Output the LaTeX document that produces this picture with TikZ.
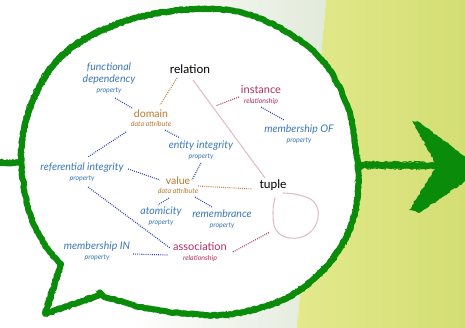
\documentclass[tikz,border=0pt]{standalone}
\usepackage{fontspec}
\setmainfont{Lato}
\usetikzlibrary{decorations.pathmorphing}

\definecolor{brushgreen}{HTML}{0A8C0A}
\definecolor{panelgreen}{HTML}{C9D9BB}
\definecolor{panelyellow}{HTML}{E3E98C}
\definecolor{panelyellowdk}{HTML}{D3DE73}
\definecolor{propblue}{HTML}{3B78B8}
\definecolor{attrbrown}{HTML}{B5782E}
\definecolor{relmagenta}{HTML}{B32E64}
\definecolor{dotblue}{HTML}{2C3FB0}
\definecolor{dotorange}{HTML}{C0803A}
\definecolor{dotmagenta}{HTML}{B0306A}
\definecolor{tuplepink}{HTML}{E3BCCB}

% second line of a label: the kind of element
\newcommand{\kind}[1]{\\[-1.5pt]{\fontsize{7}{7}\selectfont\itshape #1}}

% outline of the speech bubble, tail at the lower left
\newcommand{\bubbleoutline}{plot[smooth, tension=0.6] coordinates {
    (100,295) (140,307) (180,313) (220,315) (260,308) (297,292) (330,262)
    (350,228) (358,190) (356,150) (347,105) (322,60) (285,31) (243,13)
    (195,9) (140,17) (90,36) (55,63) (33,100) (22,140) (23,180) (31,217)
    (47,248) (61,264)} -- (45,314) -- cycle}

\pgfdeclarehorizontalshading{leftpanel}{100bp}{color(0bp)=(white);
  color(45bp)=(white); color(100bp)=(panelgreen)}

\begin{document}
\begin{tikzpicture}[
  x=1pt,
  y=-1pt,
  every node/.style={inner sep=1pt, align=center},
  concept/.style={font=\fontsize{12}{12}\selectfont, text=black},
  attrib/.style={font=\fontsize{10.5}{10.5}\selectfont, text=attrbrown},
  relship/.style={font=\fontsize{11}{11}\selectfont, text=relmagenta},
  prop/.style={font=\fontsize{10.5}{11.5}\selectfont\itshape, text=propblue},
  dotlink/.style={line width=1.1pt, dash pattern=on 0.9pt off 1.2pt},
  bluelink/.style={dotlink, dotblue},
  orangelink/.style={dotlink, dotorange},
  magentalink/.style={dotlink, dotmagenta},
  pinklink/.style={tuplepink, line width=1.1pt},
  brush/.style={draw=brushgreen, line width=6pt, line join=round, line cap=round,
                decorate, decoration={random steps, segment length=2.5pt, amplitude=0.7pt}},
  brushedge/.style={draw=brushgreen, line width=1pt,
                decorate, decoration={random steps, segment length=1.5pt, amplitude=1.1pt}}
]
  \pgfmathsetseed{11}
  \useasboundingbox (0,0) rectangle (465,328);
  \clip (0,0) rectangle (465,328);

  % ---- background panels ----
  \shade[shading=leftpanel] (0,0) -- (326,0) -- (297,328) -- (0,328) -- cycle;
  \shade[left color=panelyellow, right color=panelyellowdk]
    (326,0) -- (465,0) -- (465,328) -- (297,328) -- cycle;

  % ---- arrow shaft through the bubble ----
  \draw[brush] (0,163) -- (28,163);
  \draw[brushedge] (0,160) -- (26,160.5);
  \draw[brush] (352,165) -- (440,165.5);
  \draw[brushedge] (352,162) -- (432,162.5);
  \draw[brushedge] (352,168) -- (436,168.5);

  % ---- arrow head ----
  \fill[brushgreen, decorate, decoration={random steps, segment length=2pt, amplitude=0.8pt}]
    (412,121) -- (419,122) -- (466,157) -- (466,181) -- (419,213) -- (409,210)
    -- (437,166) -- cycle;

  % ---- bubble ----
  \draw[brush, fill=white] \bubbleoutline;
  \draw[brushedge, shift={(1.8,1.8)}] \bubbleoutline;
  \draw[brushedge, shift={(-1.8,-1.8)}] \bubbleoutline;

  % ---- concepts ----
  \node[concept] (relation) at (190,69) {relation};
  \node[concept] (tuple) at (273,185) {tuple};
  \node[attrib]  (domain) at (151,118) {domain\kind{data attribute}};
  \node[attrib]  (value) at (178,185) {value\kind{data attribute}};
  \node[relship] (instance) at (261,95) {instance\kind{relationship}};
  \node[relship] (assoc) at (200,252) {association\kind{relationship}};
  \node[prop] (fundep) at (109,78) {functional\\dependency\kind{property}};
  \node[prop] (entint) at (201,150) {entity integrity\kind{property}};
  \node[prop] (refint) at (82,172) {referential integrity\kind{property}};
  \node[prop] (memberof) at (299,134) {membership OF\kind{property}};
  \node[prop] (atomicity) at (161,216) {atomicity\kind{property}};
  \node[prop] (remembrance) at (222,219) {remembrance\kind{property}};
  \node[prop] (memberin) at (97,251) {membership IN\kind{property}};

  % ---- relation and tuple ----
  \draw[pinklink] ([shift={(3,11)}]relation.center)
    -- coordinate[pos=0.26] (reltup) ([shift={(-8,-7)}]tuple.center);
  \draw[pinklink, line cap=round] plot[smooth, tension=0.7] coordinates {
    ([shift={(2,13)}]tuple.center) ([shift={(0,27)}]tuple.center)
    ([shift={(3,45)}]tuple.center) ([shift={(17,53)}]tuple.center)
    ([shift={(35,49)}]tuple.center) ([shift={(45,33)}]tuple.center)
    ([shift={(41,17)}]tuple.center) ([shift={(26,10)}]tuple.center)
    ([shift={(10,8)}]tuple.center)};

  % ---- dotted links ----
  \draw[bluelink] ([shift={(6,20)}]fundep.center) -- ([shift={(-19,-10)}]domain.center);
  \draw[orangelink] ([shift={(-13,9)}]relation.center) -- ([shift={(9,-13)}]domain.center);
  \draw[bluelink] ([shift={(-25,14)}]domain.center) -- ([shift={(6,-15)}]refint.center);
  \draw[bluelink] ([shift={(14,12)}]domain.center) -- ([shift={(-21,-12)}]entint.center);
  \draw[magentalink] ([shift={(-22,2)}]instance.center) -- ([xshift=5]reltup);
  \draw[bluelink] ([shift={(0,12)}]instance.center) -- ([shift={(-15,-14)}]memberof.center);
  \draw[bluelink] ([shift={(0,13)}]entint.center) -- ([shift={(14,-5)}]value.center);
  \draw[bluelink] ([shift={(46,-3)}]refint.center) -- ([shift={(-18,-5)}]value.center);
  \draw[orangelink] ([shift={(20,1)}]value.center) -- ([shift={(-21,4)}]tuple.center);
  \draw[bluelink] ([shift={(-9,13)}]value.center) -- ([shift={(-3,-11)}]atomicity.center);
  \draw[bluelink] ([shift={(17,12)}]value.center) -- ([shift={(-10,-12)}]remembrance.center);
  \draw[bluelink] ([shift={(6,15)}]refint.center) -- ([shift={(-30,-4)}]assoc.center);
  \draw[bluelink] ([shift={(36,3)}]memberin.center) -- ([shift={(-32,3)}]assoc.center);
  \draw[magentalink] ([shift={(33,0)}]assoc.center) -- ([shift={(-3,47)}]tuple.center);
\end{tikzpicture}
\end{document}
